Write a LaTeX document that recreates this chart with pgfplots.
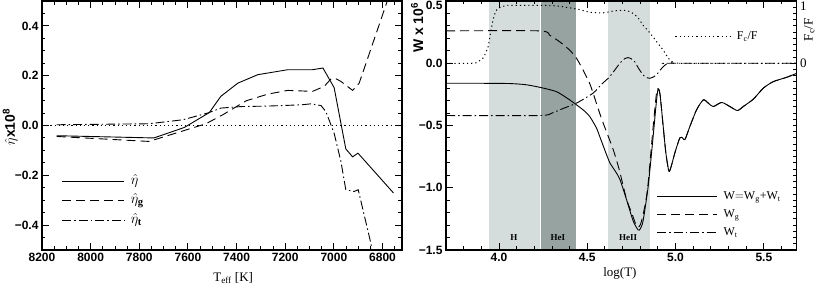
\documentclass[border=0pt]{standalone}
\usepackage{fontspec}
\setmainfont{Liberation Serif}
\setsansfont{Liberation Sans}
\usepackage{pgfplots}
\pgfplotsset{compat=1.18}

\definecolor{shadeL}{RGB}{212,221,220}
\definecolor{shadeD}{RGB}{150,163,161}

\pgfplotsset{
  idl/.style={
    scale only axis, axis on top,
    axis line style={line width=1.1pt},
    tick style={line width=0.9pt, black},
    major tick length=7pt, minor tick length=3.5pt,
    tick align=inside,
    ticklabel style={font=\sffamily\bfseries\fontsize{12}{12}\selectfont},
    label style={font=\fontsize{13}{13}\selectfont},
    legend style={draw=none, fill=none, inner sep=0pt, cells={anchor=west}},
    legend image code/.code={\draw[##1] (0pt,0pt) -- (62pt,0pt);},
  },
  lsolid/.style={black, line width=0.9pt},
  ldash/.style={black, line width=0.9pt, dash pattern=on 9pt off 5pt},
  ldashdot/.style={black, line width=0.9pt, dash pattern=on 9pt off 3pt on 1.5pt off 3pt},
  ldot/.style={black, line width=1pt, dash pattern=on 1.2pt off 3pt},
}

\begin{document}
\begin{tikzpicture}
\path[use as bounding box] (-42pt,-38pt) rectangle (775pt,250pt);

% left panel: eta vs Teff
\begin{axis}[idl,
  at={(0pt,0pt)}, anchor=south west,
  width=360pt, height=249pt,
  x dir=reverse, xmin=6720, xmax=8200, ymin=-0.5, ymax=0.5,
  xtick={6800,7000,7200,7400,7600,7800,8000,8200},
  xticklabels={6800,7000,7200,7400,7600,7800,8000,8200},
  minor xtick={6700,6750,...,8200},
  ytick={-0.4,-0.2,0,0.2,0.4},
  yticklabels={−0.4,−0.2,0.0,0.2,0.4},
  minor ytick={-0.5,-0.45,...,0.5},
  xlabel={T\textsubscript{eff} [K]},
  xlabel style={at={(axis description cs:0.531,-0.127)}, anchor=base},
  ylabel={\sffamily\bfseries\fontsize{14}{14}\selectfont$\hat{\eta}$x10\textsuperscript{8}},
  ylabel style={at={(axis description cs:-0.088,0.494)}, anchor=center},
  legend style={at={(0.055,0.314)}, anchor=north west,
    font=\fontsize{15}{15}\selectfont,
    nodes={text height=10pt, text depth=4pt}, row sep=1.5pt, column sep=4pt},
]
\addplot[ldot, forget plot] coordinates {(8200,0) (6720,0)};
\addplot[lsolid] coordinates {
  (8140,-0.041) (7740,-0.050) (7615,-0.008) (7512,0.052) (7465,0.117)
  (7395,0.170) (7313,0.204) (7190,0.224) (7088,0.224) (7045,0.231)
  (6999,0.152) (6951,-0.094) (6923,-0.126) (6901,-0.111) (6755,-0.271)};
\addplot[ldash] coordinates {
  (8140,-0.044) (7760,-0.064) (7526,0.007) (7457,0.043) (7361,0.099)
  (7272,0.126) (7190,0.141) (7088,0.137) (7040,0.157) (7012,0.187)
  (6990,0.187) (6971,0.177) (6923,0.141) (6896,0.170) (6770,0.53)};
\addplot[ldashdot] coordinates {
  (8140,0.003) (7760,0.007) (7621,0.023) (7519,0.050) (7464,0.070)
  (7382,0.076) (7272,0.078) (7135,0.083) (7094,0.087) (7053,0.080)
  (7033,0.056) (6999,-0.031) (6971,-0.145) (6951,-0.258) (6917,-0.265)
  (6900,-0.258) (6848,-0.473) (6838,-0.53)};
\legend{$\hat{\eta}$, $\hat{\eta}_{\mathbf{g}}$, $\hat{\eta}_{\mathbf{t}}$}
\end{axis}

% right panel: work integrals vs log T
\begin{axis}[idl,
  at={(404pt,0pt)}, anchor=south west,
  width=350.7pt, height=249pt,
  xmin=3.7, xmax=5.686, ymin=-1.5, ymax=0.5,
  ytick pos=left,
  xtick={4,4.5,5,5.5},
  xticklabels={4.0,4.5,5.0,5.5},
  minor xtick={3.7,3.8,...,5.7},
  ytick={-1.5,-1,-0.5,0,0.5},
  yticklabels={−1.5,−1.0,−0.5,0.0,\raisebox{-8.6pt}[0pt][0pt]{0.5}},
  minor ytick={-1.5,-1.4,...,0.5},
  xlabel={log(T)},
  xlabel style={at={(axis description cs:0.496,-0.107)}, anchor=base},
  ylabel={\sffamily\bfseries\fontsize{14}{14}\selectfont W x 10\textsuperscript{6}},
  ylabel style={at={(axis description cs:-0.082,0.893)}, anchor=center},
  legend style={at={(0.600,0.248)}, anchor=north west,
    font=\fontsize{12}{12}\selectfont,
    nodes={text height=9pt, text depth=3pt}, row sep=2pt, column sep=4pt},
  legend image code/.code={\draw[#1] (0pt,0pt) -- (60pt,0pt);},
]
\addplot[fill=shadeL, draw=none, forget plot] coordinates {(3.943,-1.5) (3.943,0.5) (4.231,0.5) (4.231,-1.5)} -- cycle;
\addplot[fill=shadeD, draw=none, forget plot] coordinates {(4.240,-1.5) (4.240,0.5) (4.435,0.5) (4.435,-1.5)} -- cycle;
\addplot[fill=shadeL, draw=none, forget plot] coordinates {(4.618,-1.5) (4.618,0.5) (4.853,0.5) (4.853,-1.5)} -- cycle;
\node[font=\bfseries\fontsize{9}{9}\selectfont] at (axis cs:4.085,-1.40) {H};
\node[font=\bfseries\fontsize{9}{9}\selectfont] at (axis cs:4.334,-1.40) {HeI};
\node[font=\bfseries\fontsize{9}{9}\selectfont] at (axis cs:4.731,-1.40) {HeII};
\addplot[lsolid, smooth, tension=0.4] coordinates {
  (3.70,-0.161) (3.90,-0.161) (4.06,-0.163) (4.15,-0.172) (4.23,-0.193)
  (4.325,-0.228) (4.40,-0.294) (4.476,-0.374) (4.514,-0.428) (4.552,-0.52)
  (4.571,-0.59) (4.60,-0.70) (4.628,-0.80) (4.66,-0.87) (4.685,-0.934)
  (4.722,-1.094) (4.76,-1.267) (4.788,-1.339) (4.80,-1.33) (4.816,-1.267)
  (4.845,-0.987) (4.873,-0.588) (4.89,-0.33) (4.901,-0.205) (4.912,-0.25)
  (4.93,-0.508) (4.945,-0.72) (4.962,-0.867) (4.975,-0.83) (4.996,-0.72)
  (5.024,-0.60) (5.04,-0.60) (5.053,-0.614) (5.081,-0.508) (5.119,-0.374)
  (5.157,-0.294) (5.185,-0.32) (5.213,-0.348) (5.261,-0.315) (5.308,-0.348)
  (5.35,-0.38) (5.383,-0.348) (5.44,-0.289) (5.497,-0.2) (5.553,-0.148)
  (5.629,-0.113) (5.686,-0.081)};
\addplot[ldash, smooth, tension=0.4] coordinates {
  (3.70,0.26) (4.23,0.26) (4.287,0.225) (4.344,0.172) (4.40,0.106)
  (4.439,0.04) (4.476,-0.054) (4.513,-0.16) (4.533,-0.24) (4.57,-0.40)
  (4.59,-0.48) (4.646,-0.69) (4.68,-0.85) (4.722,-1.09) (4.751,-1.2)
  (4.779,-1.307) (4.795,-1.31) (4.807,-1.27) (4.83,-1.12) (4.845,-0.96)
  (4.873,-0.51) (4.892,-0.24) (4.901,-0.205) (4.912,-0.25)
  (4.93,-0.508) (4.945,-0.72) (4.962,-0.867) (4.975,-0.83) (4.996,-0.72)
  (5.024,-0.60) (5.04,-0.60) (5.053,-0.614) (5.081,-0.508) (5.119,-0.374)
  (5.157,-0.294) (5.185,-0.32) (5.213,-0.348) (5.261,-0.315) (5.308,-0.348)
  (5.35,-0.38) (5.383,-0.348) (5.44,-0.289) (5.497,-0.2) (5.553,-0.148)
  (5.629,-0.113) (5.686,-0.081)};
\addplot[ldashdot, smooth, tension=0.4] coordinates {
  (3.70,-0.42) (4.23,-0.42) (4.30,-0.40) (4.344,-0.374) (4.439,-0.32)
  (4.533,-0.24) (4.58,-0.17) (4.627,-0.108) (4.684,-0.001) (4.71,0.035)
  (4.731,0.045) (4.75,0.035) (4.769,0.012) (4.79,-0.04) (4.816,-0.094)
  (4.835,-0.115) (4.854,-0.121) (4.875,-0.11) (4.892,-0.094) (4.91,-0.06)
  (4.93,-0.028) (4.95,-0.005) (4.968,0) (5.686,0)};
\legend{W$=$W\textsubscript{g}+W\textsubscript{t}, W\textsubscript{g}, W\textsubscript{t}}
\end{axis}

% right-hand scale: convective flux fraction
\begin{axis}[idl,
  at={(404pt,0pt)}, anchor=south west,
  width=350.7pt, height=249pt,
  xmin=3.7, xmax=5.686, ymin=-3, ymax=1,
  hide x axis, axis y line*=right,
  ytick={0,1}, yticklabels={0,\raisebox{-9.5pt}[0pt][0pt]{1}},
  minor ytick={-3,-2.9,...,1},
  yticklabel style={font=\fontsize{13}{13}\selectfont},
  ylabel={\fontsize{13}{13}\selectfont F\textsubscript{c}/F},
  ylabel style={at={(axis description cs:1.036,0.884)}, anchor=center},
  legend style={at={(0.652,0.889)}, anchor=north west,
    font=\fontsize{12}{12}\selectfont,
    nodes={text height=9pt, text depth=3pt}, column sep=4pt},
  legend image code/.code={\draw[#1] (0pt,0pt) -- (55pt,0pt);},
]
\addplot[ldot, smooth, tension=0.4] coordinates {
  (3.70,0) (3.85,0) (3.872,0.01) (3.909,0.08) (3.925,0.17) (3.938,0.26)
  (3.95,0.45) (3.966,0.69) (3.98,0.82) (3.994,0.88) (4.03,0.92) (4.06,0.93)
  (4.25,0.93) (4.33,0.92) (4.40,0.89) (4.46,0.86) (4.514,0.82) (4.59,0.81)
  (4.65,0.84) (4.703,0.85) (4.73,0.84) (4.76,0.80) (4.79,0.72) (4.816,0.61)
  (4.845,0.52) (4.873,0.42) (4.90,0.32) (4.93,0.21) (4.95,0.12) (4.968,0.05)
  (4.99,0.01) (5.006,0) (5.686,0)};
\legend{F\textsubscript{c}/F}
\end{axis}
\end{tikzpicture}
\end{document}
